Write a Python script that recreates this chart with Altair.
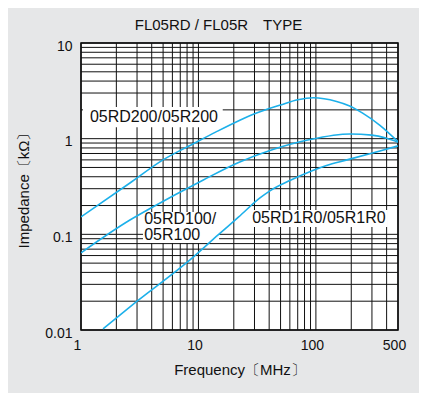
import altair as alt
import pandas as pd

# ---- data ----
freq_200 = [1, 2.61, 4.99, 9.3, 14, 22.5, 30, 50, 70, 95, 150, 194, 250, 351, 500]
imp_200 = [0.152, 0.344, 0.6, 0.9, 1.17, 1.56, 1.82, 2.25, 2.55, 2.68, 2.45, 2.2, 1.85, 1.38, 0.93]

freq_100 = [1, 2.61, 3.87, 11, 21.7, 43, 89, 195, 300, 400, 500]
imp_100 = [0.064, 0.141, 0.186, 0.37, 0.56, 0.77, 0.98, 1.12, 1.09, 1.01, 0.92]

freq_1r0 = [1.54, 3, 8.47, 14.7, 22, 33.4, 40.6, 60, 94, 123, 184, 351, 500]
imp_1r0 = [0.0103, 0.02, 0.054, 0.0986, 0.152, 0.24, 0.285, 0.365, 0.465, 0.525, 0.6, 0.745, 0.84]

x_ticks = [1, 10, 100, 500]
y_ticks = [0.01, 0.1, 1, 10]
x_grid = [m * d for d in (1, 10, 100) for m in range(1, 10) if m * d <= 500]
y_grid = [round(m * d, 4) for d in (0.01, 0.1, 1) for m in range(1, 10)] + [10]

label_text = ["05RD200/05R200", "05RD100/\n05R100", "05RD1R0/05R1R0"]
label_x = [4.18, 3.45, 106]
label_y = [1.69, 0.145, 0.148]
label_align = ["center", "left", "center"]
box_x = [1.04, 3.37, 26.4]
box_x2 = [16.1, 15.0, 410]
box_y = [2.14, 0.171, 0.18]
box_y2 = [1.32, 0.081, 0.119]

curves = pd.concat([
    pd.DataFrame({"f": freq_200, "z": imp_200, "s": "200"}),
    pd.DataFrame({"f": freq_100, "z": imp_100, "s": "100"}),
    pd.DataFrame({"f": freq_1r0, "z": imp_1r0, "s": "1R0"}),
])
labels = pd.DataFrame({"t": label_text, "x": label_x, "y": label_y, "a": label_align})
boxes = pd.DataFrame({"x": box_x, "x2": box_x2, "y": box_y, "y2": box_y2})

FONT = "Liberation Sans"
xs = alt.Scale(type="log", domain=[1, 500], nice=False)
ys = alt.Scale(type="log", domain=[0.01, 10], nice=False)

xaxis = alt.Axis(values=x_ticks, format="~g", grid=False, ticks=False, domain=False,
                 labelFontSize=14, labelColor="#111", labelPadding=8, labelOffset=-4,
                 labelFont=FONT, title="Frequency〔MHz〕", titleFontSize=15,
                 titleFontWeight="normal", titleColor="#111", titlePadding=10, titleFont=FONT,
                 labelFlush=False)
yaxis = alt.Axis(values=y_ticks, format="~g", grid=False, ticks=False, domain=False,
                 labelFontSize=14, labelColor="#111", labelPadding=9, labelOffset=3,
                 labelFont=FONT, title="Impedance〔kΩ〕", titleFontSize=15,
                 titleFontWeight="normal", titleColor="#111", titlePadding=13, titleFont=FONT,
                 labelFlush=False)

vgrid = alt.Chart(pd.DataFrame({"x": x_grid})).mark_rule(color="#111", strokeWidth=1).encode(
    x=alt.X("x:Q", scale=xs, axis=xaxis))
hgrid = alt.Chart(pd.DataFrame({"y": y_grid})).mark_rule(color="#111", strokeWidth=1).encode(
    y=alt.Y("y:Q", scale=ys, axis=yaxis))

rects = alt.Chart(boxes).mark_rect(color="white").encode(
    x=alt.X("x:Q", scale=xs), x2="x2:Q", y=alt.Y("y:Q", scale=ys), y2="y2:Q")

lines = alt.Chart(curves).mark_line(color="#1cb0ea", strokeWidth=1.6, interpolate="monotone",
                                    clip=True).encode(
    x=alt.X("f:Q", scale=xs), y=alt.Y("z:Q", scale=ys), detail="s:N")

texts = []
for al in ["center", "left"]:
    texts.append(alt.Chart(labels[labels.a == al]).mark_text(
        fontSize=16, font=FONT, color="#111", align=al, baseline="middle", lineHeight=16,
        lineBreak="\n"
    ).encode(x=alt.X("x:Q", scale=xs), y=alt.Y("y:Q", scale=ys), text="t:N"))

chart = alt.layer(vgrid, hgrid, rects, lines, *texts).properties(
    width=317, height=287,
    autosize=alt.AutoSizeParams(type="none"),
    padding={"left": 73, "top": 35, "right": 21, "bottom": 63},
    background="#e6e7e8",
    title=alt.TitleParams("FL05RD / FL05R　TYPE", fontSize=15, font=FONT,
                          fontWeight="normal", color="#111", offset=6, dx=-21),
).configure_view(fill="white", stroke="#000", strokeWidth=1.5)

chart.save("out.html", embed_options={"renderer": "svg", "actions": False})
